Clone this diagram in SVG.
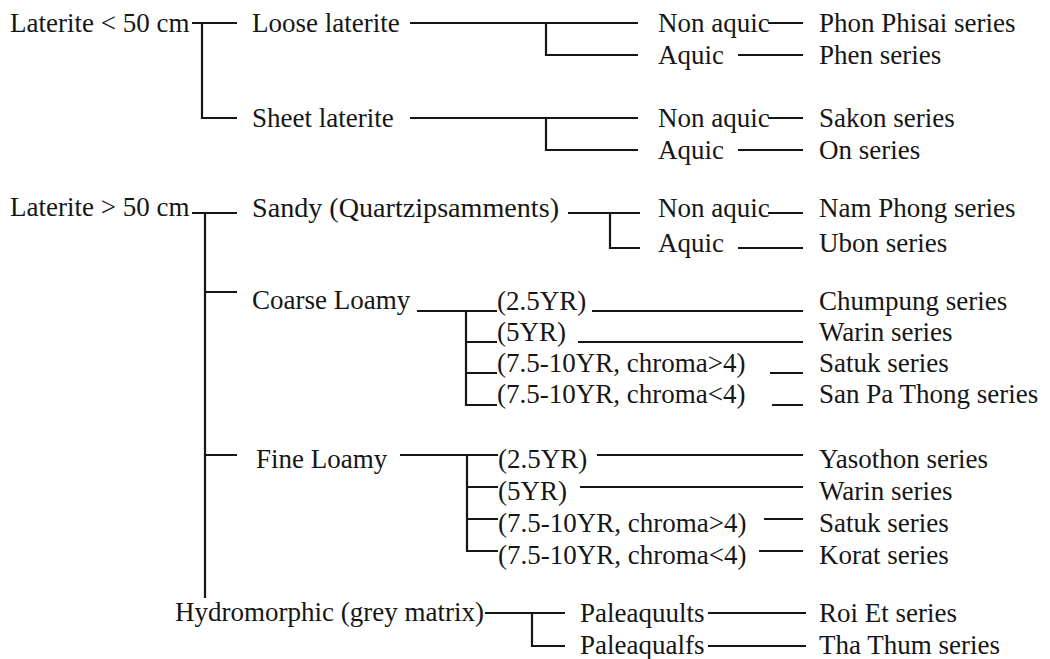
<svg xmlns="http://www.w3.org/2000/svg" width="1050" height="659" viewBox="0 0 1050 659">
<style>
text{font-family:"Liberation Serif","Times New Roman",serif;font-size:27px;fill:#161616}
.c path{fill:none;stroke:#161616;stroke-width:2.2}
</style>
<rect width="1050" height="659" fill="#ffffff"/>
<g class="c" id="connectors">
<path d="M192 23H237M202 23V118H237"/>
<path d="M410 23H638M546 23V55H638"/>
<path d="M768 23H803M738 55H803"/>
<path d="M410 118H638M546 118V150H638"/>
<path d="M768 118H803M738 150H803"/>
<path d="M192 213H237M205 213V598M205 292H237M205 455H237"/>
<path d="M568 213H640M610 213V248H640"/>
<path d="M768 213H803M738 248H803"/>
<path d="M417 311H497M466 311V405H497M466 342H497M466 373H497"/>
<path d="M592 311H803M578 342H803M770 373H803M772 405H803"/>
<path d="M400 455H498M467 455V551H498M467 487H498M467 519H498"/>
<path d="M597 455H803M580 487H803M764 519H803M759 551H803"/>
<path d="M485 613H565M532 613V646H565"/>
<path d="M708 613H806M708 646H806"/>
</g>
<g id="n-lat-lt50"><text x="10" y="32">Laterite &lt; 50 cm</text></g>
<g id="n-loose"><text x="252" y="32">Loose laterite</text></g>
<g id="n-loose-na"><text x="658" y="32">Non aquic</text></g>
<g id="n-phon"><text x="819" y="32">Phon Phisai series</text></g>
<g id="n-loose-aq"><text x="658" y="64">Aquic</text></g>
<g id="n-phen"><text x="819" y="64">Phen series</text></g>
<g id="n-sheet"><text x="252" y="127">Sheet laterite</text></g>
<g id="n-sheet-na"><text x="658" y="127">Non aquic</text></g>
<g id="n-sakon"><text x="819" y="127">Sakon series</text></g>
<g id="n-sheet-aq"><text x="658" y="159">Aquic</text></g>
<g id="n-on"><text x="819" y="159">On series</text></g>
<g id="n-lat-gt50"><text x="10" y="216">Laterite &gt; 50 cm</text></g>
<g id="n-sandy"><text x="252" y="217" textLength="307" lengthAdjust="spacingAndGlyphs">Sandy (Quartzipsamments)</text></g>
<g id="n-sandy-na"><text x="658" y="217">Non aquic</text></g>
<g id="n-namphong"><text x="819" y="217">Nam Phong series</text></g>
<g id="n-sandy-aq"><text x="658" y="252">Aquic</text></g>
<g id="n-ubon"><text x="819" y="252">Ubon series</text></g>
<g id="n-coarse"><text x="252" y="309">Coarse Loamy</text></g>
<g id="n-c1"><text x="497" y="310">(2.5YR)</text></g>
<g id="n-c2"><text x="497" y="341">(5YR)</text></g>
<g id="n-c3"><text x="497" y="372">(7.5-10YR, chroma&gt;4)</text></g>
<g id="n-c4"><text x="497" y="403">(7.5-10YR, chroma&lt;4)</text></g>
<g id="n-chumpung"><text x="819" y="310">Chumpung series</text></g>
<g id="n-warin1"><text x="819" y="341">Warin series</text></g>
<g id="n-satuk1"><text x="819" y="372">Satuk series</text></g>
<g id="n-sanpathong"><text x="819" y="403">San Pa Thong series</text></g>
<g id="n-fine"><text x="256" y="468">Fine Loamy</text></g>
<g id="n-f1"><text x="498" y="468">(2.5YR)</text></g>
<g id="n-f2"><text x="498" y="500">(5YR)</text></g>
<g id="n-f3"><text x="498" y="532">(7.5-10YR, chroma&gt;4)</text></g>
<g id="n-f4"><text x="498" y="564">(7.5-10YR, chroma&lt;4)</text></g>
<g id="n-yasothon"><text x="819" y="468">Yasothon series</text></g>
<g id="n-warin2"><text x="819" y="500">Warin series</text></g>
<g id="n-satuk2"><text x="819" y="532">Satuk series</text></g>
<g id="n-korat"><text x="819" y="564">Korat series</text></g>
<g id="n-hydro"><text x="175" y="621">Hydromorphic (grey matrix)</text></g>
<g id="n-paleaquults"><text x="580" y="622">Paleaquults</text></g>
<g id="n-paleaqualfs"><text x="580" y="654">Paleaqualfs</text></g>
<g id="n-roiet"><text x="819" y="622">Roi Et series</text></g>
<g id="n-thathum"><text x="819" y="654">Tha Thum series</text></g>
</svg>
